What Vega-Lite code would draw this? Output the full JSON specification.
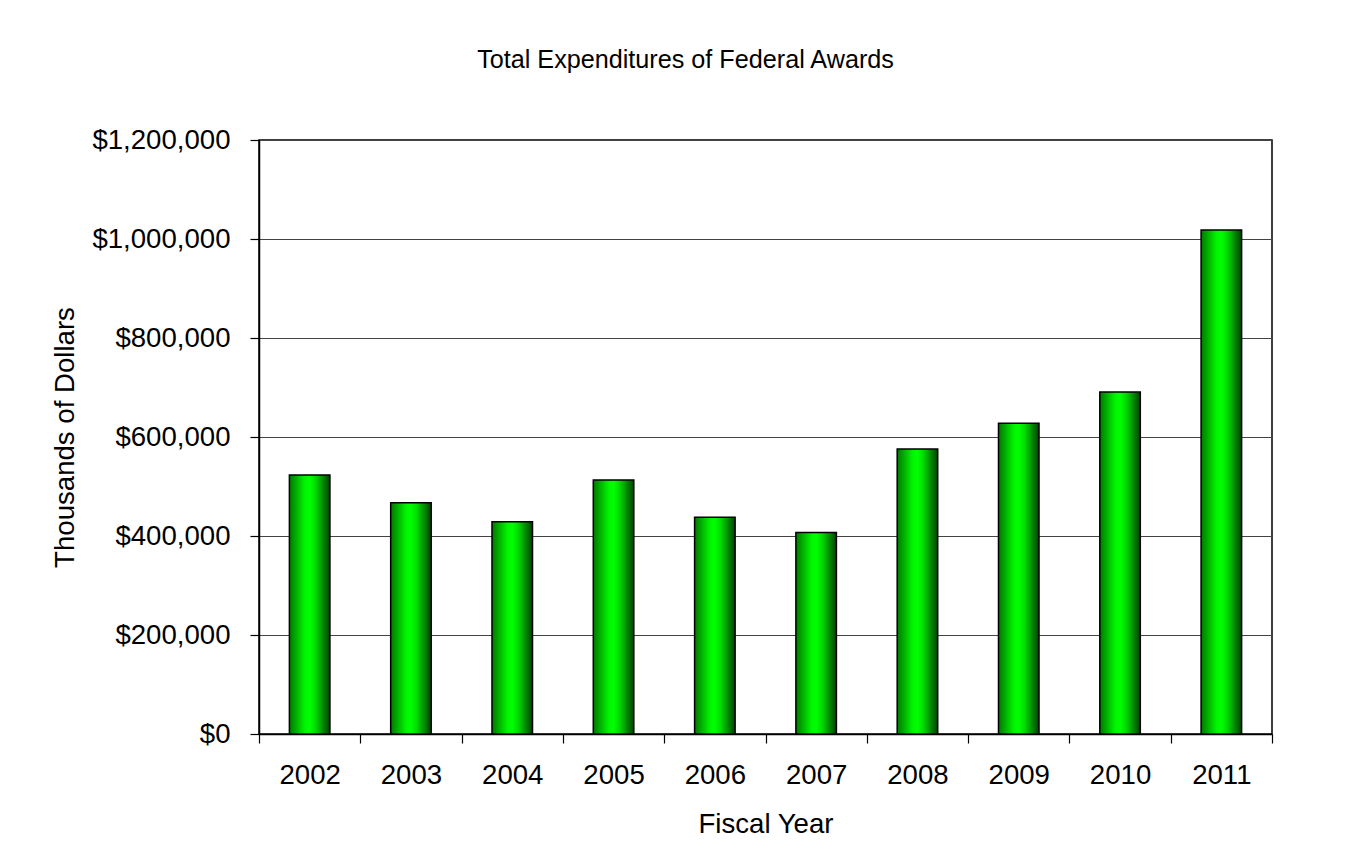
{
  "$schema": "https://vega.github.io/schema/vega-lite/v6.json",
  "width": 1013,
  "height": 594,
  "autosize": {"type": "none"},
  "padding": {"left": 259, "top": 140, "right": 76, "bottom": 131},
  "background": "white",
  "title": {
    "text": "Total Expenditures of Federal Awards",
    "font": "Liberation Sans",
    "fontSize": 25.2,
    "fontWeight": "normal",
    "color": "black",
    "anchor": "middle",
    "frame": "group",
    "baseline": "alphabetic",
    "offset": 33,
    "dx": -80
  },
  "data": {
    "values": [
      {"year": "2002", "amount": 523000},
      {"year": "2003", "amount": 467000},
      {"year": "2004", "amount": 429000},
      {"year": "2005", "amount": 513000},
      {"year": "2006", "amount": 438000},
      {"year": "2007", "amount": 407000},
      {"year": "2008", "amount": 576000},
      {"year": "2009", "amount": 628000},
      {"year": "2010", "amount": 691000},
      {"year": "2011", "amount": 1018000}
    ]
  },
  "mark": {
    "type": "bar",
    "width": {"band": 0.4},
    "stroke": "black",
    "strokeWidth": 1.5,
    "fill": {
      "gradient": "linear",
      "x1": 0, "y1": 0, "x2": 1, "y2": 0,
      "stops": [
        {"offset": 0, "color": "#007800"},
        {"offset": 0.38, "color": "#00f500"},
        {"offset": 0.5, "color": "#00ff00"},
        {"offset": 0.65, "color": "#00d800"},
        {"offset": 1, "color": "#004000"}
      ]
    }
  },
  "encoding": {
    "x": {
      "field": "year",
      "type": "ordinal",
      "scale": {"paddingInner": 0, "paddingOuter": 0},
      "axis": {
        "title": "Fiscal Year",
        "labelAngle": 0,
        "tickBand": "extent",
        "tickSize": 9,
        "labelPadding": 40,
        "labelBaseline": "alphabetic",
        "titleBaseline": "alphabetic",
        "titleY": 98
      }
    },
    "y": {
      "field": "amount",
      "type": "quantitative",
      "scale": {"domain": [0, 1200000], "nice": false},
      "axis": {
        "title": "Thousands of Dollars",
        "values": [0, 200000, 400000, 600000, 800000, 1000000, 1200000],
        "format": "$,.0f",
        "tickSize": 9,
        "labelPadding": 20,
        "grid": true,
        "titleX": -186,
        "titleY": 297,
        "titleBaseline": "alphabetic"
      }
    }
  },
  "config": {
    "font": "Liberation Sans",
    "view": {"stroke": "black", "strokeWidth": 1.5},
    "axis": {
      "labelFont": "Liberation Sans",
      "labelFontSize": 27.6,
      "labelColor": "black",
      "titleFont": "Liberation Sans",
      "titleFontSize": 27.6,
      "titleFontWeight": "normal",
      "titleColor": "black",
      "domainColor": "black",
      "domainWidth": 1.5,
      "tickColor": "black",
      "tickWidth": 1.2,
      "gridColor": "#444444",
      "gridWidth": 1,
      "gridOpacity": 1
    },
    "axisX": {"grid": false}
  }
}
